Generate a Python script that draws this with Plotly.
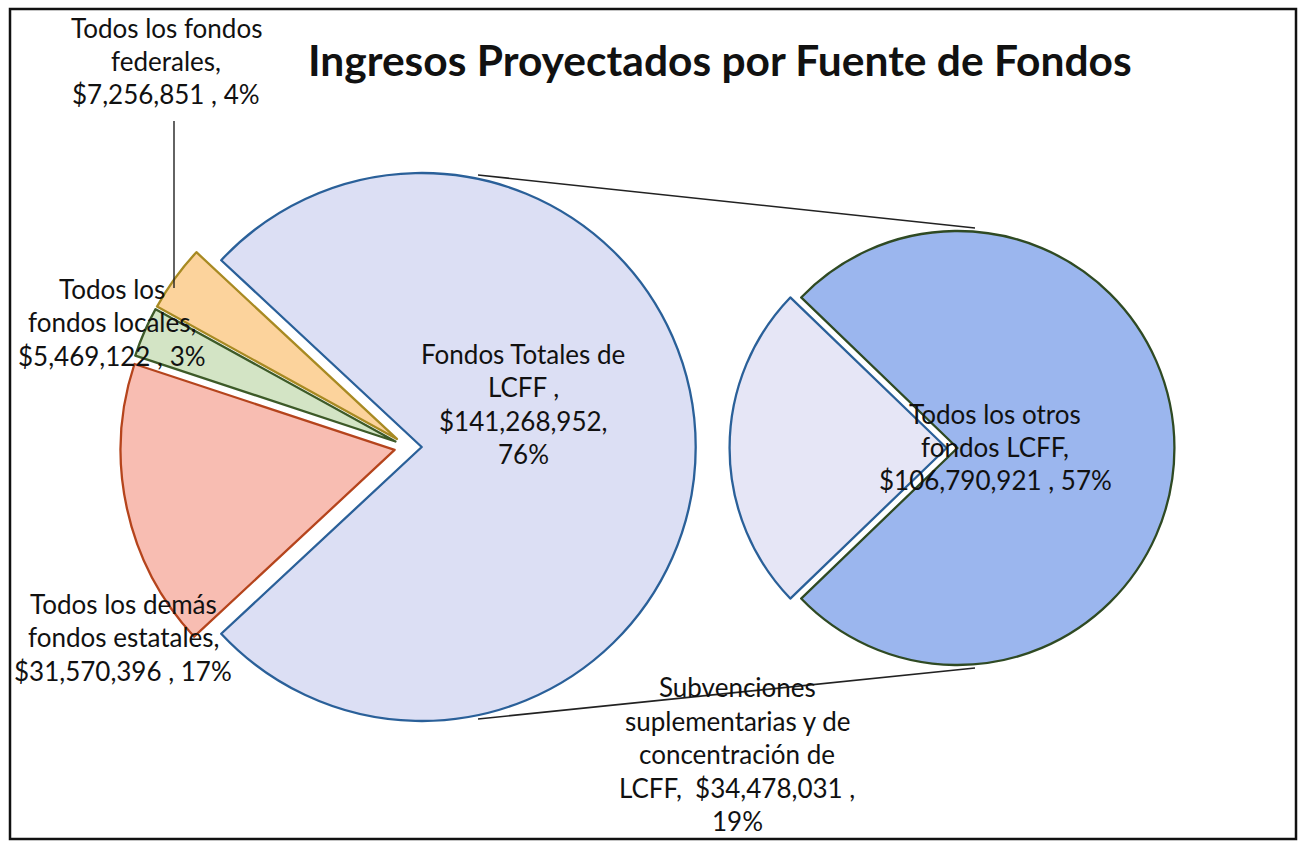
import plotly.graph_objects as go

W, H = 1299, 842

# ---- data ----
main_labels = ["Fondos Totales de LCFF", "Todos los demás fondos estatales",
               "Todos los fondos locales", "Todos los fondos federales"]
main_values = [141268952, 31570396, 5469122, 7256851]
main_fill = ["#dcdff4", "#f8bdb2", "#d3e4c5", "#fcd39c"]
main_line = ["#2a6099", "#b5441c", "#3d5a28", "#a88a22"]

sub_labels = ["Todos los otros fondos LCFF",
              "Subvenciones suplementarias y de concentración de LCFF"]
sub_values = [106790921, 34478031]
sub_fill = ["#9bb6ee", "#e6e6f6"]
sub_line = ["#2f4a23", "#2a6099"]

title_text = "Ingresos Proyectados por Fuente de Fondos"

label_lines = {
    "fed": ["Todos los fondos", "federales,", "$7,256,851 , 4%"],
    "loc": ["Todos los", "fondos locales,", "$5,469,122 , 3%"],
    "est": ["Todos los demás", "fondos estatales,", "$31,570,396 , 17%"],
    "lcff": ["Fondos Totales de", "LCFF ,", "$141,268,952,", "76%"],
    "otros": ["Todos los otros", "fondos LCFF,", "$106,790,921 , 57%"],
    "sub": ["Subvenciones", "suplementarias y de", "concentración de",
            "LCFF,  $34,478,031 ,", "19%"],
}

# ---- geometry (pixels) ----
def px(x):
    return x / W

def py(y):
    return 1 - y / H

FONT = "Lato"

L_cx, L_cy, L_r, L_pull = 408, 447, 274, 0.05
R_cx, R_cy, R_r, R_pull = 952, 448, 217, 0.025

def dom(cx, cy, r, pull):
    h = r * (1 + pull)
    return dict(x=[px(cx - h), px(cx + h)], y=[py(cy + h), py(cy - h)])

main_total = sum(main_values)
main_rot = 90 - 180 * main_values[0] / main_total
sub_total = sum(sub_values)
sub_rot = 90 - 180 * sub_values[0] / sub_total

fig = go.Figure()
fig.add_trace(go.Pie(
    labels=main_labels, values=main_values, sort=False, direction="clockwise",
    rotation=main_rot, pull=[L_pull] * 4, textinfo="none", hoverinfo="label+value+percent",
    marker=dict(colors=main_fill, line=dict(color=main_line, width=2.3)),
    domain=dom(L_cx, L_cy, L_r, L_pull), showlegend=False,
))
fig.add_trace(go.Pie(
    labels=sub_labels, values=sub_values, sort=False, direction="clockwise",
    rotation=sub_rot, pull=[R_pull] * 2, textinfo="none", hoverinfo="label+value+percent",
    marker=dict(colors=sub_fill, line=dict(color=sub_line, width=2.3)),
    domain=dom(R_cx, R_cy, R_r, R_pull), showlegend=False,
))

shapes = []
# outer frame
shapes.append(dict(type="rect", xref="paper", yref="paper",
                   x0=px(10), x1=px(1296), y0=py(839), y1=py(9),
                   line=dict(color="#111111", width=2.5), layer="below"))
# connector lines between pies
shapes.append(dict(type="line", xref="paper", yref="paper",
                   x0=px(478), y0=py(175), x1=px(975), y1=py(228),
                   line=dict(color="#222222", width=1.6)))
shapes.append(dict(type="line", xref="paper", yref="paper",
                   x0=px(478), y0=py(719), x1=px(975), y1=py(668),
                   line=dict(color="#222222", width=1.6)))
# leader line for federal label
shapes.append(dict(type="line", xref="paper", yref="paper",
                   x0=px(174), y0=py(121), x1=px(174), y1=py(288),
                   line=dict(color="#222222", width=1.4)))

annotations = []
annotations.append(dict(text="<b>" + title_text + "</b>", x=px(720), y=py(59),
                        xref="paper", yref="paper", showarrow=False,
                        xanchor="center", yanchor="middle",
                        font=dict(family=FONT, size=42.5, color="#111111")))

LINE_H = 33.5
label_pos = {
    "fed": (166, 61),
    "loc": (112, 322),
    "est": (123, 637),
    "lcff": (523, 404),
    "otros": (995, 447),
    "sub": (737, 754),
}
for key, lines in label_lines.items():
    cx, cy = label_pos[key]
    n = len(lines)
    for i, t in enumerate(lines):
        yy = cy + (i - (n - 1) / 2) * LINE_H
        annotations.append(dict(text=t, x=px(cx), y=py(yy), xref="paper", yref="paper",
                                showarrow=False, xanchor="center", yanchor="middle",
                                font=dict(family=FONT, size=26, color="#111111")))

fig.update_layout(
    width=W, height=H, margin=dict(l=0, r=0, t=0, b=0),
    paper_bgcolor="white", plot_bgcolor="white",
    shapes=shapes, annotations=annotations,
)

fig.write_html("out.html", config={"displayModeBar": False},
               post_script="document.body.style.margin='0';document.body.style.overflow='hidden';")
